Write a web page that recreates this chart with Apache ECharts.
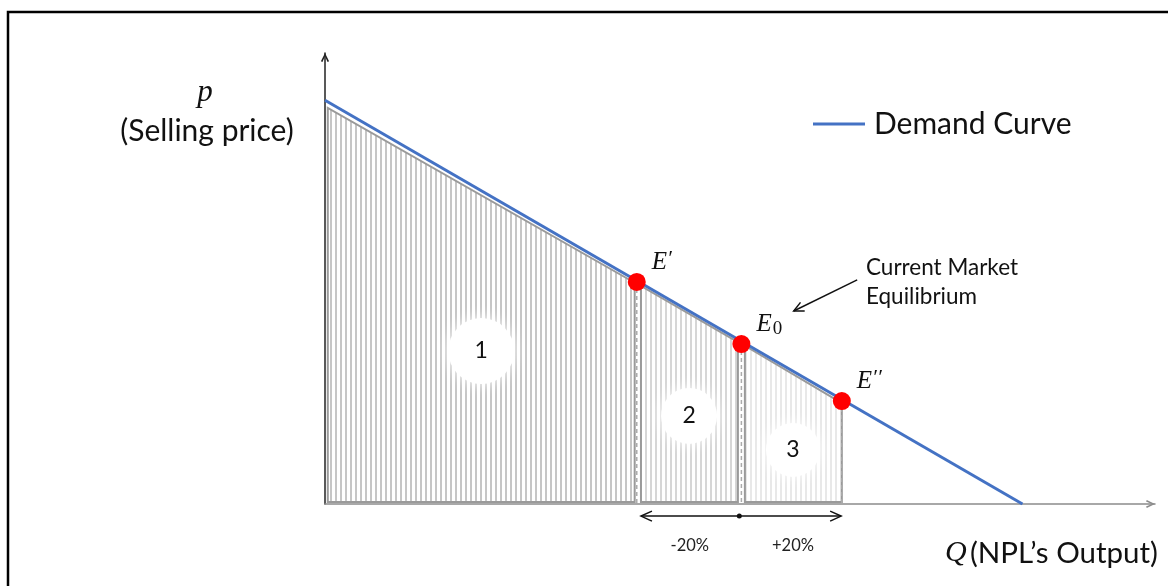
<!DOCTYPE html>
<html><head><meta charset="utf-8">
<script src="https://cdn.jsdelivr.net/npm/echarts@6/dist/echarts.min.js"></script>
<style>html,body{margin:0;padding:0;background:#fff}#c{width:1168px;height:586px}</style>
</head><body><div id="c"></div>
<script>
// ---- data ----
const demandQ = [0, 100];
const demandP = [100, 0];
const eqNames = ['prime', 'zero', 'dprime'];
const eqQ = [44.7, 59.7, 74.1];
const eqP = [55.0, 39.6, 25.5];
const regionLabels = ['1', '2', '3'];
const regionQ0 = [0.4, 45.3, 60.2];
const regionQ1 = [44.4, 59.2, 74.1];
const regionTop0 = [98.1, 54.0, 39.2];
const regionTop1 = [54.8, 40.1, 25.0];
const regionBase = 0.5;
const labelQ = [22.4, 52.2, 67.1];
const labelP = [37.9, 21.8, 13.4];
const changeLabels = ['-20%', '+20%'];
const changeArrowQ = [45.3, 59.4, 74.0];
const changeArrowP = -3;
const changeLabelQ = [52.3, 67.1];
const changeLabelP = -10.4;
const noteArrowQ = [76.3, 67.2];
const noteArrowP = [55.5, 47.8];

// ---- stripe patterns ----
function stripes(color, gap, w) {
  const c = document.createElement('canvas');
  c.width = gap; c.height = 8;
  const ctx = c.getContext('2d');
  ctx.fillStyle = '#ffffff'; ctx.fillRect(0, 0, gap, 8);
  ctx.fillStyle = color; ctx.fillRect(0, 0, w, 8);
  return c;
}
const patterns = [stripes('#c6c6c6', 5, 2), stripes('#d6d6d6', 5, 2), stripes('#e8e8e8', 5, 2)];
const circleSize = [66, 56, 54];
const chevron = 'path://M0,10L5,0L10,10L8.1,11L5,4L1.9,11Z';

const chart = echarts.init(document.getElementById('c'));
const sans = 'Lato';

const option = {
  animation: false,
  backgroundColor: '#fff',
  grid: {left: 325, right: 13, top: 53, bottom: 82},
  xAxis: {
    type: 'value', min: 0, max: 119,
    axisLine: {show: true, onZero: false, lineStyle: {color: '#8c8c8c', width: 1.5},
      symbol: ['none', chevron], symbolSize: [12, 9], symbolOffset: [0, -4.5]},
    axisTick: {show: false}, axisLabel: {show: false}, splitLine: {show: false}
  },
  yAxis: {
    type: 'value', min: 0, max: 111.7,
    axisLine: {show: true, onZero: false, lineStyle: {color: '#222', width: 1.5},
      symbol: ['none', chevron], symbolSize: [12, 9], symbolOffset: [0, -4.5]},
    axisTick: {show: false}, axisLabel: {show: false}, splitLine: {show: false}
  },
  legend: {
    left: 808, top: 104, itemWidth: 52, itemHeight: 3, itemGap: 10,
    icon: 'rect',
    textStyle: {fontFamily: sans, fontSize: 30, color: '#111', padding: [0, 0, 0, 4]},
    data: ['Demand Curve']
  },
  graphic: [
    {type: 'rect', shape: {x: 8, y: 12, width: 1200, height: 620}, style: {fill: 'none', stroke: '#000', lineWidth: 2.5}, z: 100},
    {type: 'text', style: {text: 'p', x: 205, y: 93, align: 'center', verticalAlign: 'middle', font: 'italic 31px "Liberation Serif"', fill: '#111'}},
    {type: 'text', style: {text: '(Selling price)', x: 207, y: 131, align: 'center', verticalAlign: 'middle', font: '30px Lato', fill: '#111'}},
    {type: 'text', style: {text: 'Current Market\nEquilibrium', x: 866, y: 282, align: 'left', verticalAlign: 'middle', font: '22.5px Lato', lineHeight: 29, fill: '#111'}},
    {type: 'text', style: {
      rich: {q: {font: 'italic 30px "Liberation Serif"', fill: '#111'}, t: {font: '29.5px Lato', fill: '#111'}},
      text: '{q|Q} {t|(NPL\u2019s Output)}', x: 1158, y: 553, align: 'right', verticalAlign: 'middle'}}
  ],
  series: [
    {
      type: 'custom', name: 'regions', z: 1, clip: false,
      data: regionQ0.map((q, i) => [q, regionBase, regionQ1[i], regionTop0[i]]),
      renderItem(params, api) {
        const i = params.dataIndex;
        const pts = [[regionQ0[i], regionBase], [regionQ0[i], regionTop0[i]], [regionQ1[i], regionTop1[i]], [regionQ1[i], regionBase]].map(p => api.coord(p));
        return {type: 'polygon', shape: {points: pts},
          style: {fill: {type: 'pattern', image: patterns[i], repeat: 'repeat'}, stroke: '#9a9a9a', lineWidth: 2}};
      }
    },
    {
      type: 'custom', name: 'dashes', z: 2, clip: false,
      data: eqQ.map((q, i) => [q, eqP[i]]),
      renderItem(params, api) {
        const i = params.dataIndex;
        const a = api.coord([eqQ[i], eqP[i]]), b = api.coord([eqQ[i], 0]);
        return {type: 'line', shape: {x1: a[0], y1: a[1], x2: b[0], y2: b[1]},
          style: {stroke: '#ababab', lineWidth: 1.5, lineDash: [4, 3]}};
      }
    },
    {
      type: 'scatter', name: 'numbers', z: 3,
      data: labelQ.map((q, i) => ({value: [q, labelP[i]], symbolSize: circleSize[i]})),
      itemStyle: {color: '#fff', shadowColor: '#fff', shadowBlur: 14, opacity: 1},
      label: {show: true, position: 'inside', formatter: p => regionLabels[p.dataIndex], fontFamily: sans, fontSize: 23, color: '#111'},
      silent: true
    },
    {
      type: 'line', name: 'Demand Curve', z: 4,
      data: demandQ.map((q, i) => [q, demandP[i]]),
      symbol: 'none', lineStyle: {color: '#4472C4', width: 3}, itemStyle: {color: '#4472C4'}
    },
    {
      type: 'scatter', name: 'eq', z: 5,
      data: eqQ.map((q, i) => [q, eqP[i]]),
      symbolSize: 18, itemStyle: {color: '#ff0000', opacity: 1},
      label: {show: true, position: 'right', distance: 0,
        offset: [6, -20],
        formatter: p => ['{e|E}{s|\u2032}', '{e|E}{sub|0}', '{e|E}{s|\u2032\u2032}'][p.dataIndex],
        rich: {
          e: {fontFamily: 'Liberation Serif', fontStyle: 'italic', fontSize: 25, color: '#111'},
          s: {fontFamily: 'Liberation Serif', fontStyle: 'italic', fontSize: 22, color: '#111', padding: [0, 0, 6, 0]},
          sub: {fontFamily: 'Liberation Serif', fontSize: 19, color: '#111', padding: [10, 0, 0, 1]}
        }}
    },
    {
      type: 'custom', name: 'change', z: 6, clip: false,
      data: [[changeArrowQ[0], changeArrowP]],
      renderItem(params, api) {
        const a = api.coord([changeArrowQ[0], changeArrowP]);
        const m = api.coord([changeArrowQ[1], changeArrowP]);
        const b = api.coord([changeArrowQ[2], changeArrowP]);
        const st = {stroke: '#111', lineWidth: 1.5, fill: 'none'};
        const children = [
          {type: 'line', shape: {x1: a[0], y1: a[1], x2: b[0], y2: b[1]}, style: st},
          {type: 'polyline', shape: {points: [[a[0] + 11, a[1] - 5], [a[0], a[1]], [a[0] + 11, a[1] + 5]]}, style: st},
          {type: 'polyline', shape: {points: [[b[0] - 11, b[1] - 5], [b[0], b[1]], [b[0] - 11, b[1] + 5]]}, style: st},
          {type: 'circle', shape: {cx: m[0], cy: m[1], r: 2.5}, style: {fill: '#111'}}
        ];
        changeLabels.forEach((t, i) => {
          const c = api.coord([changeLabelQ[i], changeLabelP]);
          children.push({type: 'text', style: {text: t, x: c[0], y: c[1], align: 'center', verticalAlign: 'middle', font: '16.5px Lato', fill: '#222'}});
        });
        return {type: 'group', children};
      }
    },
    {
      type: 'custom', name: 'note', z: 6, clip: false,
      data: [[noteArrowQ[0], noteArrowP[0]]],
      renderItem(params, api) {
        const a = api.coord([noteArrowQ[0], noteArrowP[0]]);
        const b = api.coord([noteArrowQ[1], noteArrowP[1]]);
        const ang = Math.atan2(a[1] - b[1], a[0] - b[0]);
        const L = 11, w = 0.45;
        const p1 = [b[0] + L * Math.cos(ang + w), b[1] + L * Math.sin(ang + w)];
        const p2 = [b[0] + L * Math.cos(ang - w), b[1] + L * Math.sin(ang - w)];
        const st = {stroke: '#111', lineWidth: 1.5, fill: 'none'};
        return {type: 'group', children: [
          {type: 'line', shape: {x1: a[0], y1: a[1], x2: b[0], y2: b[1]}, style: st},
          {type: 'polyline', shape: {points: [p1, b, p2]}, style: st}
        ]};
      }
    }
  ]
};
chart.setOption(option);
</script>
</body></html>
